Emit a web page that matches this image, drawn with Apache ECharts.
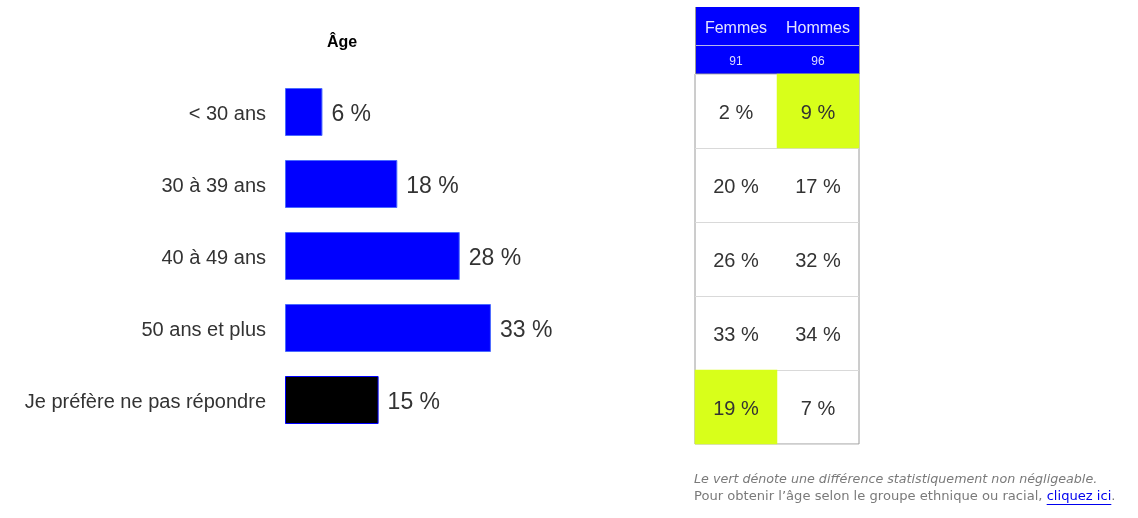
<!DOCTYPE html>
<html>
<head>
<meta charset="utf-8">
<script src="https://cdn.jsdelivr.net/npm/echarts@6/dist/echarts.min.js"></script>
<style>html,body{margin:0;padding:0;background:#fff;}#c{width:1138px;height:518px;}</style>
</head>
<body>
<div id="c"></div>
<script>
// ---- data ----
const title = 'Âge';
const ageCategories = ['< 30 ans', '30 à 39 ans', '40 à 49 ans', '50 ans et plus', 'Je préfère ne pas répondre'];
const ageValues = [6, 18, 28, 33, 15];
const genderColumns = ['Femmes', 'Hommes'];
const genderCounts = [91, 96];
const femmesValues = [2, 20, 26, 33, 19];
const hommesValues = [9, 17, 32, 34, 7];
const femmesSignificant = [false, false, false, false, true];
const hommesSignificant = [true, false, false, false, false];
const noteLine1 = 'Le vert dénote une différence statistiquement non négligeable.';
const noteLine2a = 'Pour obtenir l’âge selon le groupe ethnique ou racial, ';
const noteLink = 'cliquez ici';
const noteLine2b = '.';

const BLUE = '#0000ff';
const GREEN = '#d8ff1a';
const FONT = '"Liberation Sans", Arial, sans-serif';
const NOTE_F1 = 'italic 12.7px "DejaVu Sans", sans-serif';
const NOTE_F2 = '13.1px "DejaVu Sans", sans-serif';

// measure the link position for its underline
const mctx = document.createElement('canvas').getContext('2d');
mctx.font = NOTE_F2;
const noteX = 694;
const linkStart = noteX + mctx.measureText(noteLine2a).width;
const linkEnd = linkStart + mctx.measureText(noteLink).width;

const chart = echarts.init(document.getElementById('c'), null, {renderer: 'canvas'});

const barData = ageValues.map((v, i) => ({
  value: v,
  itemStyle: i === ageValues.length - 1
    ? {color: '#000000', borderColor: BLUE, borderWidth: 1}
    : {color: BLUE, borderColor: '#4a6aff', borderWidth: 1}
}));

const heatData = [];
[femmesValues, hommesValues].forEach((col, ci) => {
  const sig = ci === 0 ? femmesSignificant : hommesSignificant;
  col.forEach((v, ri) => {
    heatData.push({value: [ci, ri, v], itemStyle: {color: sig[ri] ? GREEN : 'rgba(0,0,0,0)'}});
  });
});

chart.setOption({
  animation: false,
  backgroundColor: '#ffffff',
  textStyle: {fontFamily: FONT},
  title: {
    text: title, left: 322, top: 30,
    textStyle: {fontSize: 16, fontWeight: 'bold', color: '#000', fontFamily: FONT}
  },
  grid: [
    {left: 285, top: 76, width: 312, height: 360, containLabel: false},
    {left: 695, top: 74, width: 164, height: 370, show: true, borderColor: '#9a9a9a', borderWidth: 1, backgroundColor: 'transparent'}
  ],
  xAxis: [
    {gridIndex: 0, type: 'value', min: 0, max: 50, show: false},
    {gridIndex: 1, type: 'category', data: genderColumns, position: 'top',
     axisLine: {show: false}, axisTick: {show: false}, splitLine: {show: false},
     axisLabel: {
       margin: -2, interval: 0,
       formatter: (val, idx) => '{a|' + val + '}\n{b|' + genderCounts[idx] + '}',
       rich: {
         a: {fontSize: 16, lineHeight: 38, color: '#e4e4ff', fontFamily: FONT, align: 'center'},
         b: {fontSize: 12, lineHeight: 28, color: '#dcdcff', fontFamily: FONT, align: 'center'}
       }
     }}
  ],
  yAxis: [
    {gridIndex: 0, type: 'category', data: ageCategories, inverse: true,
     axisLine: {show: false}, axisTick: {show: false},
     axisLabel: {margin: 19, color: '#333', fontFamily: FONT,
       formatter: v => '{t|' + v + '}',
       rich: {t: {fontSize: 20, color: '#333', fontFamily: FONT, padding: [4, 0, 0, 0]}}}},
    {gridIndex: 1, type: 'category', data: ageCategories, inverse: true,
     axisLine: {show: false}, axisTick: {show: false}, axisLabel: {show: false},
     splitLine: {show: true, lineStyle: {color: '#d9d9d9', width: 1}}}
  ],
  graphic: [
    {type: 'rect', z: -1, shape: {x: 695, y: 7, width: 164, height: 67}, style: {fill: BLUE}},
    {type: 'line', z: -1, shape: {x1: 695, y1: 45.5, x2: 859, y2: 45.5}, style: {stroke: '#b4b4ec', lineWidth: 1}},
    {type: 'line', z: -1, shape: {x1: 695.5, y1: 7, x2: 695.5, y2: 74}, style: {stroke: '#9a9a9a', lineWidth: 1}},
    {type: 'line', z: -1, shape: {x1: 859.5, y1: 7, x2: 859.5, y2: 74}, style: {stroke: '#9a9a9a', lineWidth: 1}},
    {type: 'text', left: noteX, top: 473, style: {
      text: noteLine1, fill: '#7a7a7a', font: NOTE_F1}},
    {type: 'text', left: noteX, top: 490, style: {
      text: '{g|' + noteLine2a + '}{l|' + noteLink + '}{g|' + noteLine2b + '}',
      font: NOTE_F2,
      rich: {
        g: {fill: '#7a7a7a', font: NOTE_F2},
        l: {fill: '#0000ee', font: NOTE_F2}
      }}},
    {type: 'line', shape: {x1: linkStart, y1: 504.5, x2: linkEnd, y2: 504.5}, style: {stroke: '#0000ee', lineWidth: 1}}
  ],
  series: [
    {type: 'bar', xAxisIndex: 0, yAxisIndex: 0, data: barData, barWidth: 48,
     label: {show: true, position: 'right', distance: 9, fontSize: 23, color: '#333', fontFamily: FONT,
             offset: [0, 3], formatter: p => p.value + ' %'}},
    {type: 'heatmap', xAxisIndex: 1, yAxisIndex: 1, data: heatData,
     label: {show: true, fontSize: 20, color: '#333', fontFamily: FONT, offset: [0, 2],
             formatter: p => p.value[2] + ' %'},
     emphasis: {disabled: true}}
  ]
});
</script>
</body>
</html>
